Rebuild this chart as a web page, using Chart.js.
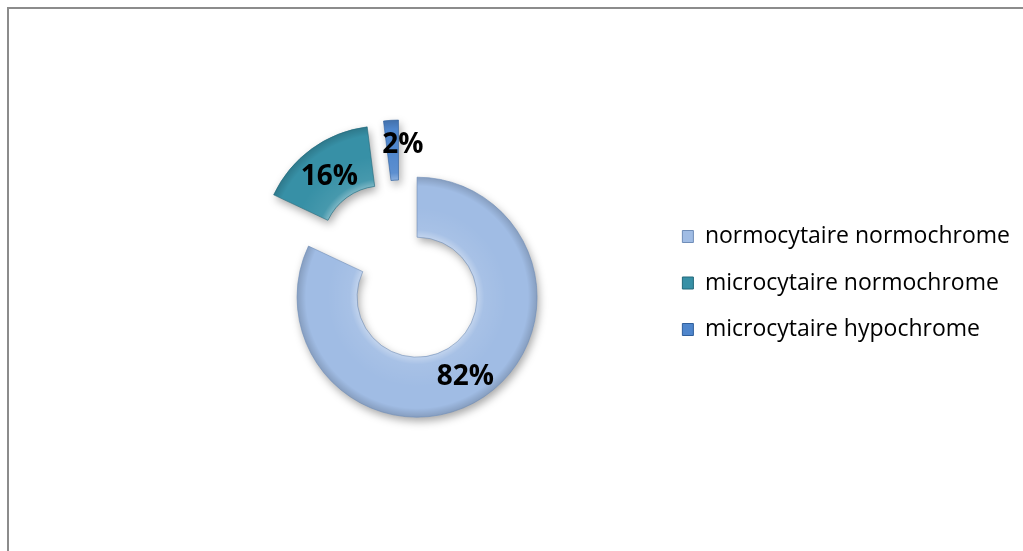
<!DOCTYPE html>
<html>
<head>
<meta charset="utf-8">
<script src="https://cdn.jsdelivr.net/npm/chart.js@4/dist/chart.umd.min.js"></script>
<style>
  html, body { margin: 0; padding: 0; background: #fff; }
  #wrap { position: relative; width: 1023px; height: 551px; }
</style>
</head>
<body>
<div id="wrap"><canvas id="anemiaChart"></canvas></div>
<script>
// chart values
const categories = ["normocytaire normochrome", "microcytaire normochrome", "microcytaire hypochrome"];
const percentages = [82, 16, 2];
const percentLabels = ["82%", "16%", "2%"];
const sliceColors = ["#a0bce4", "#3790a6", "#4f86cc"];
const sliceEdges = ["#6f8db8", "#23697b", "#2f5f9c"];

const EXPLODE = 31; // px each slice is pulled out along its mid angle

Chart.defaults.font.family = "'Open Sans', sans-serif";

function slicePath(ctx, arc) {
    ctx.beginPath();
    ctx.arc(arc.x, arc.y, arc.outerRadius, arc.startAngle, arc.endAngle);
    ctx.arc(arc.x, arc.y, arc.innerRadius, arc.endAngle, arc.startAngle, true);
    ctx.closePath();
}

// outer frame like the office chart border
const framePlugin = {
    id: 'frame',
    beforeDraw(chart) {
        const ctx = chart.ctx;
        ctx.save();
        ctx.strokeStyle = '#8c8c8c';
        ctx.lineWidth = 2;
        ctx.strokeRect(8, 8, 2000, 2000);
        ctx.restore();
    }
};

// draw the slices exploded, with shadow and a soft bevel
const explodePlugin = {
    id: 'explode',
    beforeDatasetDraw(chart, args) {
        const ctx = chart.ctx;
        args.meta.data.forEach((arc, i) => {
            const mid = (arc.startAngle + arc.endAngle) / 2;
            const dx = Math.cos(mid) * EXPLODE;
            const dy = Math.sin(mid) * EXPLODE;

            ctx.save();
            ctx.translate(dx, dy);
            ctx.shadowColor = 'rgba(0,0,0,0.35)';
            ctx.shadowBlur = 8;
            ctx.shadowOffsetX = 2;
            ctx.shadowOffsetY = 4;
            arc.draw(ctx);
            ctx.restore();

            ctx.save();
            ctx.translate(dx, dy);
            slicePath(ctx, arc);
            const g = ctx.createRadialGradient(arc.x, arc.y, arc.innerRadius, arc.x, arc.y, arc.outerRadius);
            g.addColorStop(0, 'rgba(255,255,255,0.35)');
            g.addColorStop(0.12, 'rgba(255,255,255,0.08)');
            g.addColorStop(0.5, 'rgba(255,255,255,0)');
            g.addColorStop(0.85, 'rgba(0,0,0,0)');
            g.addColorStop(1, 'rgba(0,0,0,0.16)');
            ctx.fillStyle = g;
            ctx.fill();
            ctx.strokeStyle = sliceEdges[i];
            ctx.lineWidth = 1;
            ctx.globalAlpha = 0.6;
            ctx.stroke();
            ctx.restore();
        });
        return false;
    }
};

// percent labels in the middle of each exploded slice
const sliceLabelPlugin = {
    id: 'sliceLabels',
    afterDatasetsDraw(chart, args, opts) {
        const ctx = chart.ctx;
        const meta = chart.getDatasetMeta(0);
        ctx.save();
        ctx.font = "bold 28px 'Open Sans', sans-serif";
        ctx.fillStyle = '#000';
        ctx.textAlign = 'center';
        ctx.textBaseline = 'middle';
        meta.data.forEach((arc, i) => {
            const mid = (arc.startAngle + arc.endAngle) / 2;
            const r = EXPLODE + (arc.innerRadius + arc.outerRadius) / 2;
            const nudge = opts.nudge[i] || [0, 0];
            ctx.fillText(percentLabels[i],
                arc.x + Math.cos(mid) * r + nudge[0],
                arc.y + Math.sin(mid) * r + nudge[1] + 4);
        });
        ctx.restore();
    }
};

const defaultLabels = Chart.overrides.doughnut.plugins.legend.labels.generateLabels;

new Chart(document.getElementById('anemiaChart'), {
    type: 'doughnut',
    data: {
        labels: categories,
        datasets: [{
            data: percentages,
            backgroundColor: sliceColors,
            borderWidth: 0,
            radius: 120,
            cutout: '50%',
            hoverOffset: 0
        }]
    },
    options: {
        responsive: true,
        maintainAspectRatio: false,
        animation: false,
        events: [],
        layout: {
            padding: { left: 142, right: 3, top: 0, bottom: 9 }
        },
        plugins: {
            tooltip: { enabled: false },
            sliceLabels: { nudge: [[0, 0], [0, 0], [10, -9]] },
            legend: {
                position: 'right',
                title: { display: true, text: '', padding: 0, font: { size: 24, lineHeight: 1 } },
                labels: {
                    color: '#000',
                    font: { size: 23 },
                    boxWidth: 11,
                    boxHeight: 12,
                    padding: 23.5,
                    generateLabels(chart) {
                        return defaultLabels(chart).map((item, i) => {
                            item.strokeStyle = sliceEdges[i];
                            item.lineWidth = 1;
                            return item;
                        });
                    }
                }
            }
        }
    },
    plugins: [framePlugin, explodePlugin, sliceLabelPlugin]
});
</script>
</body>
</html>
